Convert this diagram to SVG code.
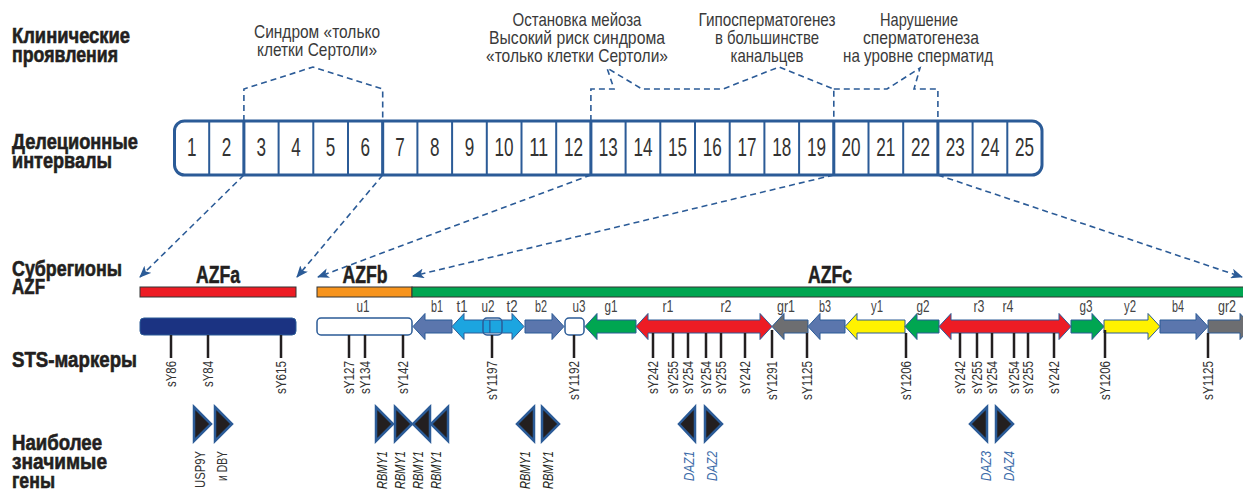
<svg xmlns="http://www.w3.org/2000/svg" width="1243" height="493" viewBox="0 0 1243 493">
<defs>
<style>
text{font-family:"Liberation Sans Narrow","Liberation Sans",Arial,sans-serif;}
.hd{font-size:22px;font-weight:bold;fill:#231f20;stroke:#231f20;stroke-width:0.6;}
.an{font-size:19px;fill:#3a3a3a;text-anchor:middle;}
.num{font-size:25px;fill:#333;text-anchor:middle;}
.seg{font-size:17px;fill:#444;text-anchor:middle;}
.azf{font-size:24px;font-weight:bold;fill:#231f20;text-anchor:middle;stroke:#231f20;stroke-width:0.5;}
.sts{font-size:15px;fill:#333;text-anchor:end;}
.gn{font-size:15.5px;fill:#333;text-anchor:end;}
.gi{font-size:15.5px;fill:#231f20;text-anchor:end;font-style:italic;}
.gd{font-size:15.5px;fill:#3a6aa8;text-anchor:end;font-style:italic;}
.dash{fill:none;stroke:#2b5b97;stroke-width:1.6;stroke-dasharray:6 4;}
.arr{stroke:#2b5b97;stroke-width:1;stroke-linejoin:round;}
.mk{stroke:#231f20;stroke-width:2.5;}
.tri{fill:#231f20;stroke:#2b5b97;stroke-width:2.5;stroke-linejoin:miter;}
.cell{stroke:#2b5b97;stroke-width:2;}
</style>
<marker id="ah" viewBox="0 0 12 10" refX="11" refY="5" markerWidth="12" markerHeight="10" markerUnits="userSpaceOnUse" orient="auto">
<path d="M0,0 L12,5 L0,10 L3,5 Z" fill="#2b5b97"/>
</marker>
</defs>
<rect width="1243" height="493" fill="#fff"/>

<g id="row-labels">
<text class="hd"><tspan x="12" y="43" textLength="118" lengthAdjust="spacingAndGlyphs">Клинические</tspan><tspan x="12" y="62" textLength="106" lengthAdjust="spacingAndGlyphs">проявления</tspan></text>
<text class="hd"><tspan x="12" y="149" textLength="126" lengthAdjust="spacingAndGlyphs">Делеционные</tspan><tspan x="12" y="168" textLength="100" lengthAdjust="spacingAndGlyphs">интервалы</tspan></text>
<text class="hd"><tspan x="12" y="276" textLength="110" lengthAdjust="spacingAndGlyphs">Субрегионы</tspan><tspan x="12" y="294" textLength="33" lengthAdjust="spacingAndGlyphs">AZF</tspan></text>
<text class="hd" x="12" y="367" textLength="125" lengthAdjust="spacingAndGlyphs">STS-маркеры</text>
<text class="hd"><tspan x="12" y="450" textLength="90" lengthAdjust="spacingAndGlyphs">Наиболее</tspan><tspan x="12" y="469" textLength="95" lengthAdjust="spacingAndGlyphs">значимые</tspan><tspan x="12" y="488" textLength="43" lengthAdjust="spacingAndGlyphs">гены</tspan></text>
</g>

<g id="annotations">
<text class="an"><tspan x="317" y="38" textLength="126" lengthAdjust="spacingAndGlyphs">Синдром «только</tspan><tspan x="317" y="56" textLength="120" lengthAdjust="spacingAndGlyphs">клетки Сертоли»</tspan></text>
<text class="an"><tspan x="577" y="26" textLength="129" lengthAdjust="spacingAndGlyphs">Остановка мейоза</tspan><tspan x="577" y="44" textLength="176" lengthAdjust="spacingAndGlyphs">Высокий риск синдрома</tspan><tspan x="577" y="62" textLength="182" lengthAdjust="spacingAndGlyphs">«только клетки Сертоли»</tspan></text>
<text class="an"><tspan x="767" y="26" textLength="137" lengthAdjust="spacingAndGlyphs">Гипосперматогенез</tspan><tspan x="767" y="44" textLength="104" lengthAdjust="spacingAndGlyphs">в большинстве</tspan><tspan x="767" y="62" textLength="73" lengthAdjust="spacingAndGlyphs">канальцев</tspan></text>
<text class="an"><tspan x="919" y="26" textLength="78" lengthAdjust="spacingAndGlyphs">Нарушение</tspan><tspan x="921" y="44" textLength="116" lengthAdjust="spacingAndGlyphs">сперматогенеза</tspan><tspan x="918" y="62" textLength="150" lengthAdjust="spacingAndGlyphs">на уровне сперматид</tspan></text>
</g>

<g id="intervals">
<rect x="174.5" y="121" width="867.5" height="54" rx="10" fill="#fff" stroke="#2b5b97" stroke-width="3"/>
<path class="cell" d="M209.2,121V175M243.9,121V175M278.6,121V175M313.3,121V175M348,121V175M382.7,121V175M417.4,121V175M452.1,121V175M486.8,121V175M521.5,121V175M556.2,121V175M590.9,121V175M625.6,121V175M660.3,121V175M695,121V175M729.7,121V175M764.4,121V175M799.1,121V175M833.8,121V175M868.5,121V175M903.2,121V175M937.9,121V175M972.6,121V175M1007.3,121V175"/>
<path stroke="#2b5b97" stroke-width="3" d="M243.9,121V175M382.7,121V175M590.9,121V175M833.8,121V175M937.9,121V175"/>
<text class="num" x="191.8" y="156" textLength="9.5" lengthAdjust="spacingAndGlyphs">1</text>
<text class="num" x="226.5" y="156" textLength="9.5" lengthAdjust="spacingAndGlyphs">2</text>
<text class="num" x="261.2" y="156" textLength="9.5" lengthAdjust="spacingAndGlyphs">3</text>
<text class="num" x="295.9" y="156" textLength="9.5" lengthAdjust="spacingAndGlyphs">4</text>
<text class="num" x="330.6" y="156" textLength="9.5" lengthAdjust="spacingAndGlyphs">5</text>
<text class="num" x="365.3" y="156" textLength="9.5" lengthAdjust="spacingAndGlyphs">6</text>
<text class="num" x="400" y="156" textLength="9.5" lengthAdjust="spacingAndGlyphs">7</text>
<text class="num" x="434.7" y="156" textLength="9.5" lengthAdjust="spacingAndGlyphs">8</text>
<text class="num" x="469.4" y="156" textLength="9.5" lengthAdjust="spacingAndGlyphs">9</text>
<text class="num" x="504.1" y="156" textLength="19" lengthAdjust="spacingAndGlyphs">10</text>
<text class="num" x="538.8" y="156" textLength="19" lengthAdjust="spacingAndGlyphs">11</text>
<text class="num" x="573.5" y="156" textLength="19" lengthAdjust="spacingAndGlyphs">12</text>
<text class="num" x="608.2" y="156" textLength="19" lengthAdjust="spacingAndGlyphs">13</text>
<text class="num" x="642.9" y="156" textLength="19" lengthAdjust="spacingAndGlyphs">14</text>
<text class="num" x="677.6" y="156" textLength="19" lengthAdjust="spacingAndGlyphs">15</text>
<text class="num" x="712.3" y="156" textLength="19" lengthAdjust="spacingAndGlyphs">16</text>
<text class="num" x="747" y="156" textLength="19" lengthAdjust="spacingAndGlyphs">17</text>
<text class="num" x="781.7" y="156" textLength="19" lengthAdjust="spacingAndGlyphs">18</text>
<text class="num" x="816.4" y="156" textLength="19" lengthAdjust="spacingAndGlyphs">19</text>
<text class="num" x="851.1" y="156" textLength="19" lengthAdjust="spacingAndGlyphs">20</text>
<text class="num" x="885.8" y="156" textLength="19" lengthAdjust="spacingAndGlyphs">21</text>
<text class="num" x="920.5" y="156" textLength="19" lengthAdjust="spacingAndGlyphs">22</text>
<text class="num" x="955.2" y="156" textLength="19" lengthAdjust="spacingAndGlyphs">23</text>
<text class="num" x="989.9" y="156" textLength="19" lengthAdjust="spacingAndGlyphs">24</text>
<text class="num" x="1024.6" y="156" textLength="19" lengthAdjust="spacingAndGlyphs">25</text>
</g>

<g id="connectors">
<path class="dash" d="M243.9,121V89L313,67L382.7,89V121"/>
<path class="dash" d="M590.9,121V89H614L607,68L642,89H723L779,67L833.8,89V121"/>
<path class="dash" d="M833.8,89H887L920,68L914,89H937.9V121"/>
<path class="dash" marker-end="url(#ah)" d="M243.9,175L140,277"/>
<path class="dash" marker-end="url(#ah)" d="M382.7,175L297,277"/>
<path class="dash" marker-end="url(#ah)" d="M590.9,175L318,277"/>
<path class="dash" marker-end="url(#ah)" d="M833.8,175L413,276"/>
<path class="dash" marker-end="url(#ah)" d="M937.9,175L1242,277"/>
</g>

<g id="azf-subregions">
<text class="azf" x="218" y="283" textLength="44" lengthAdjust="spacingAndGlyphs">AZFa</text>
<text class="azf" x="365" y="283" textLength="45" lengthAdjust="spacingAndGlyphs">AZFb</text>
<text class="azf" x="830" y="283" textLength="44" lengthAdjust="spacingAndGlyphs">AZFc</text>
<rect x="140" y="287" width="156" height="10" fill="#ed1c24" stroke="#333" stroke-width="1"/>
<rect x="317" y="287" width="95" height="10" fill="#f7941d" stroke="#333" stroke-width="1"/>
<rect x="412" y="287" width="840" height="10" fill="#00a651" stroke="#333" stroke-width="1"/>
</g>

<g id="segments">
<rect x="140" y="318" width="156" height="17" rx="4" fill="#1b3382" stroke="#2b5b97" stroke-width="1"/>
<rect x="317" y="318" width="95" height="17" rx="4" fill="#fff" stroke="#2b5b97" stroke-width="1.5"/>
<polygon class="arr" fill="#5b76ad" points="413,326.5 425,313.5 425,320 452,320 452,333 425,333 425,339.5"/>
<polygon class="arr" fill="#1ca5e0" points="452,326.5 464,313.5 464,320 490,320 490,333 464,333 464,339.5"/>
<polygon class="arr" fill="#1ca5e0" points="490,320 512,320 512,313.5 524,326.5 512,339.5 512,333 490,333"/>
<rect x="483" y="318" width="19" height="17" rx="4" fill="none" stroke="#2b5b97" stroke-width="1.5"/>
<polygon class="arr" fill="#5b76ad" points="525,320 552,320 552,313.5 564,326.5 552,339.5 552,333 525,333"/>
<rect x="565" y="318" width="19" height="17" rx="4" fill="#fff" stroke="#2b5b97" stroke-width="1.5"/>
<polygon class="arr" fill="#00a651" points="585,326.5 597,313.5 597,320 636,320 636,333 597,333 597,339.5"/>
<polygon class="arr" fill="#ed1c24" points="636,326.5 648,313.5 648,320 760,320 760,313.5 772,326.5 760,339.5 760,333 648,333 648,339.5"/>
<polygon class="arr" fill="#6d6e71" points="772,326.5 784,313.5 784,320 808,320 808,333 784,333 784,339.5"/>
<polygon class="arr" fill="#5b76ad" points="808,326.5 820,313.5 820,320 845,320 845,333 820,333 820,339.5"/>
<polygon class="arr" fill="#fff200" points="845,326.5 857,313.5 857,320 905,320 905,333 857,333 857,339.5"/>
<polygon class="arr" fill="#00a651" points="905,326.5 917,313.5 917,320 939,320 939,333 917,333 917,339.5"/>
<polygon class="arr" fill="#ed1c24" points="939,326.5 951,313.5 951,320 1059,320 1059,313.5 1071,326.5 1059,339.5 1059,333 951,333 951,339.5"/>
<polygon class="arr" fill="#00a651" points="1071,320 1092,320 1092,313.5 1104,326.5 1092,339.5 1092,333 1071,333"/>
<polygon class="arr" fill="#fff200" points="1104,320 1148,320 1148,313.5 1160,326.5 1148,339.5 1148,333 1104,333"/>
<polygon class="arr" fill="#5b76ad" points="1160,320 1196,320 1196,313.5 1208,326.5 1196,339.5 1196,333 1160,333"/>
<polygon class="arr" fill="#6d6e71" points="1208,320 1240,320 1240,313.5 1252,326.5 1240,339.5 1240,333 1208,333"/>
<text class="seg" x="363" y="312" textLength="13" lengthAdjust="spacingAndGlyphs">u1</text>
<text class="seg" x="437" y="312" textLength="12" lengthAdjust="spacingAndGlyphs">b1</text>
<text class="seg" x="462" y="312" textLength="11" lengthAdjust="spacingAndGlyphs">t1</text>
<text class="seg" x="488" y="312" textLength="13" lengthAdjust="spacingAndGlyphs">u2</text>
<text class="seg" x="512" y="312" textLength="11" lengthAdjust="spacingAndGlyphs">t2</text>
<text class="seg" x="541" y="312" textLength="12" lengthAdjust="spacingAndGlyphs">b2</text>
<text class="seg" x="579" y="312" textLength="13" lengthAdjust="spacingAndGlyphs">u3</text>
<text class="seg" x="611" y="312" textLength="13" lengthAdjust="spacingAndGlyphs">g1</text>
<text class="seg" x="668" y="312" textLength="11" lengthAdjust="spacingAndGlyphs">r1</text>
<text class="seg" x="726" y="312" textLength="11" lengthAdjust="spacingAndGlyphs">r2</text>
<text class="seg" x="786" y="312" textLength="18" lengthAdjust="spacingAndGlyphs">gr1</text>
<text class="seg" x="825" y="312" textLength="12" lengthAdjust="spacingAndGlyphs">b3</text>
<text class="seg" x="877" y="312" textLength="12" lengthAdjust="spacingAndGlyphs">y1</text>
<text class="seg" x="923" y="312" textLength="13" lengthAdjust="spacingAndGlyphs">g2</text>
<text class="seg" x="979" y="312" textLength="11" lengthAdjust="spacingAndGlyphs">r3</text>
<text class="seg" x="1008" y="312" textLength="11" lengthAdjust="spacingAndGlyphs">r4</text>
<text class="seg" x="1086" y="312" textLength="13" lengthAdjust="spacingAndGlyphs">g3</text>
<text class="seg" x="1130" y="312" textLength="12" lengthAdjust="spacingAndGlyphs">y2</text>
<text class="seg" x="1178" y="312" textLength="12" lengthAdjust="spacingAndGlyphs">b4</text>
<text class="seg" x="1227" y="312" textLength="18" lengthAdjust="spacingAndGlyphs">gr2</text>
</g>

<g id="sts-markers">
<path class="mk" d="M171,335V358M208,335V358M281,335V358M349,335V358M365,335V358M403,335V358M492,335V358M574,335V358M653,333V358M673,333V358M688,333V358M706,333V358M721,333V358M745,333V358M772,330V358M807,333V358M906,333V358M960,333V358M977,333V358M992,333V358M1014,333V358M1028,333V358M1054,333V358M1105,330V358M1208,333V358"/>
<text class="sts" transform="translate(176,361) rotate(-90)" textLength="26" lengthAdjust="spacingAndGlyphs">sY86</text>
<text class="sts" transform="translate(213,361) rotate(-90)" textLength="26" lengthAdjust="spacingAndGlyphs">sY84</text>
<text class="sts" transform="translate(286,361) rotate(-90)" textLength="33" lengthAdjust="spacingAndGlyphs">sY615</text>
<text class="sts" transform="translate(354,361) rotate(-90)" textLength="33" lengthAdjust="spacingAndGlyphs">sY127</text>
<text class="sts" transform="translate(370,361) rotate(-90)" textLength="33" lengthAdjust="spacingAndGlyphs">sY134</text>
<text class="sts" transform="translate(408,361) rotate(-90)" textLength="33" lengthAdjust="spacingAndGlyphs">sY142</text>
<text class="sts" transform="translate(497,361) rotate(-90)" textLength="39" lengthAdjust="spacingAndGlyphs">sY1197</text>
<text class="sts" transform="translate(579,361) rotate(-90)" textLength="39" lengthAdjust="spacingAndGlyphs">sY1192</text>
<text class="sts" transform="translate(658,361) rotate(-90)" textLength="33" lengthAdjust="spacingAndGlyphs">sY242</text>
<text class="sts" transform="translate(678,361) rotate(-90)" textLength="33" lengthAdjust="spacingAndGlyphs">sY255</text>
<text class="sts" transform="translate(693,361) rotate(-90)" textLength="33" lengthAdjust="spacingAndGlyphs">sY254</text>
<text class="sts" transform="translate(711,361) rotate(-90)" textLength="33" lengthAdjust="spacingAndGlyphs">sY254</text>
<text class="sts" transform="translate(726,361) rotate(-90)" textLength="33" lengthAdjust="spacingAndGlyphs">sY255</text>
<text class="sts" transform="translate(750,361) rotate(-90)" textLength="33" lengthAdjust="spacingAndGlyphs">sY242</text>
<text class="sts" transform="translate(777,361) rotate(-90)" textLength="39" lengthAdjust="spacingAndGlyphs">sY1291</text>
<text class="sts" transform="translate(812,361) rotate(-90)" textLength="39" lengthAdjust="spacingAndGlyphs">sY1125</text>
<text class="sts" transform="translate(911,361) rotate(-90)" textLength="39" lengthAdjust="spacingAndGlyphs">sY1206</text>
<text class="sts" transform="translate(965,361) rotate(-90)" textLength="33" lengthAdjust="spacingAndGlyphs">sY242</text>
<text class="sts" transform="translate(982,361) rotate(-90)" textLength="33" lengthAdjust="spacingAndGlyphs">sY255</text>
<text class="sts" transform="translate(997,361) rotate(-90)" textLength="33" lengthAdjust="spacingAndGlyphs">sY254</text>
<text class="sts" transform="translate(1019,361) rotate(-90)" textLength="33" lengthAdjust="spacingAndGlyphs">sY254</text>
<text class="sts" transform="translate(1033,361) rotate(-90)" textLength="33" lengthAdjust="spacingAndGlyphs">sY255</text>
<text class="sts" transform="translate(1059,361) rotate(-90)" textLength="33" lengthAdjust="spacingAndGlyphs">sY242</text>
<text class="sts" transform="translate(1110,361) rotate(-90)" textLength="39" lengthAdjust="spacingAndGlyphs">sY1206</text>
<text class="sts" transform="translate(1213,361) rotate(-90)" textLength="39" lengthAdjust="spacingAndGlyphs">sY1125</text>
</g>

<g id="genes">
<polygon class="tri" points="194,407 211,424 194,441"/>
<polygon class="tri" points="215,407 232,424 215,441"/>
<polygon class="tri" points="376,407 393,424 376,441"/>
<polygon class="tri" points="395,407 412,424 395,441"/>
<polygon class="tri" points="430,407 413,424 430,441"/>
<polygon class="tri" points="448,407 431,424 448,441"/>
<polygon class="tri" points="534,407 517,424 534,441"/>
<polygon class="tri" points="542,407 559,424 542,441"/>
<polygon class="tri" points="695,407 679,424 695,441"/>
<polygon class="tri" points="705,407 722,424 705,441"/>
<polygon class="tri" points="987,407 970,424 987,441"/>
<polygon class="tri" points="996,407 1013,424 996,441"/>
<text class="gn" transform="translate(204.5,451) rotate(-90)" textLength="37" lengthAdjust="spacingAndGlyphs">USP9Y</text>
<text class="gn" transform="translate(226.5,451) rotate(-90)" textLength="30" lengthAdjust="spacingAndGlyphs">и DBY</text>
<text class="gi" transform="translate(386.5,451) rotate(-90)" textLength="38" lengthAdjust="spacingAndGlyphs">RBMY1</text>
<text class="gi" transform="translate(404.5,451) rotate(-90)" textLength="38" lengthAdjust="spacingAndGlyphs">RBMY1</text>
<text class="gi" transform="translate(422.5,451) rotate(-90)" textLength="38" lengthAdjust="spacingAndGlyphs">RBMY1</text>
<text class="gi" transform="translate(440.5,451) rotate(-90)" textLength="38" lengthAdjust="spacingAndGlyphs">RBMY1</text>
<text class="gi" transform="translate(529.5,451) rotate(-90)" textLength="38" lengthAdjust="spacingAndGlyphs">RBMY1</text>
<text class="gi" transform="translate(552.5,451) rotate(-90)" textLength="38" lengthAdjust="spacingAndGlyphs">RBMY1</text>
<text class="gd" transform="translate(693.5,451) rotate(-90)" textLength="30" lengthAdjust="spacingAndGlyphs">DAZ1</text>
<text class="gd" transform="translate(716.5,451) rotate(-90)" textLength="30" lengthAdjust="spacingAndGlyphs">DAZ2</text>
<text class="gd" transform="translate(990.5,451) rotate(-90)" textLength="30" lengthAdjust="spacingAndGlyphs">DAZ3</text>
<text class="gd" transform="translate(1013.5,451) rotate(-90)" textLength="30" lengthAdjust="spacingAndGlyphs">DAZ4</text>
</g>
</svg>
